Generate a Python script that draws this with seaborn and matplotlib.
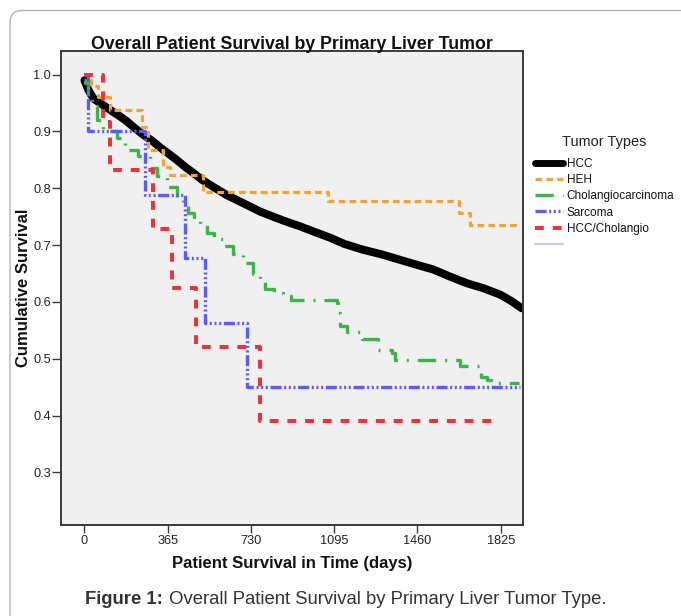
import matplotlib
matplotlib.use("Agg")
import matplotlib.pyplot as plt
import seaborn as sns
import pandas as pd
from matplotlib.lines import Line2D
from matplotlib.patches import FancyBboxPatch
from matplotlib.transforms import IdentityTransform

# ---------------- data ----------------
tumor_types = ["HCC", "HEH", "Cholangiocarcinoma", "Sarcoma", "HCC/Cholangio"]

hcc_days = [0, 17, 39, 75, 112, 150, 185, 220, 258, 295, 331, 368, 404, 440, 477,
            515, 550, 587, 624, 700, 770, 840, 901, 945, 1010, 1077, 1140, 1220,
            1300, 1384, 1460, 1530, 1600, 1676, 1750, 1822, 1870, 1917]
hcc_surv = [0.99, 0.973, 0.958, 0.948, 0.938, 0.928, 0.918, 0.906, 0.894, 0.884,
            0.872, 0.861, 0.850, 0.838, 0.827, 0.815, 0.806, 0.797, 0.788, 0.773,
            0.759, 0.748, 0.739, 0.733, 0.723, 0.713, 0.702, 0.692, 0.684, 0.674,
            0.665, 0.657, 0.645, 0.633, 0.624, 0.613, 0.602, 0.589]

heh_days = [0, 30, 60, 110, 252, 280, 345, 375, 520, 1068, 1643, 1691, 1901]
heh_surv = [1.0, 0.98, 0.96, 0.938, 0.908, 0.867, 0.837, 0.823, 0.794, 0.777,
            0.757, 0.736, 0.736]

chol_days = [0, 2, 15, 35, 54, 81, 141, 178, 235, 287, 317, 360, 404, 430, 454,
             480, 507, 536, 570, 609, 650, 697, 740, 770, 792, 830, 872, 905,
             1105, 1113, 1121, 1150, 1215, 1288, 1350, 1360, 1645, 1740, 1765,
             1790, 1903]
chol_surv = [0.99, 0.985, 0.968, 0.945, 0.92, 0.90, 0.888, 0.867, 0.856, 0.835,
             0.821, 0.803, 0.785, 0.77, 0.757, 0.745, 0.736, 0.721, 0.71, 0.698,
             0.685, 0.668, 0.65, 0.639, 0.622, 0.615, 0.61, 0.604, 0.598, 0.58,
             0.557, 0.547, 0.535, 0.515, 0.511, 0.498, 0.487, 0.468, 0.463,
             0.457, 0.457]

sarc_days = [0, 17, 265, 441, 528, 711, 1910]
sarc_surv = [1.0, 0.90, 0.788, 0.677, 0.563, 0.450, 0.450]

mixed_days = [0, 80, 112, 302, 382, 488, 770, 1818]
mixed_surv = [1.0, 0.917, 0.833, 0.729, 0.625, 0.521, 0.391, 0.391]

x_ticks = [0, 365, 730, 1095, 1460, 1825]
y_ticks = [0.3, 0.4, 0.5, 0.6, 0.7, 0.8, 0.9, 1.0]
y_tick_labels = ["0.3", "0.4", "0.5", "0.6", "0.7", "0.8", "0.9", "1.0"]

title_text = "Overall Patient Survival by Primary Liver Tumor"
xlabel_text = "Patient Survival in Time (days)"
ylabel_text = "Cumulative Survival"
legend_title = "Tumor Types"
caption_bold = "Figure 1:"
caption_rest = " Overall Patient Survival by Primary Liver Tumor Type."

# ---------------- styles ----------------
palette = {"HCC": "#000000", "HEH": "#f7a133", "Cholangiocarcinoma": "#3cb44b",
           "Sarcoma": "#5b5bff", "HCC/Cholangio": "#e8353d"}
sizes = {"HCC": 5.8, "HEH": 2.3, "Cholangiocarcinoma": 2.4, "Sarcoma": 2.4,
         "HCC/Cholangio": 2.9}
dashes = {"HCC": "", "HEH": (2.1, 1.3), "Cholangiocarcinoma": (5.5, 2.7, 0.6, 2.7),
          "Sarcoma": (3.3, 0.8, 0.6, 0.8, 0.6, 0.8, 0.6, 0.8),
          "HCC/Cholangio": (2.2, 2.2)}

series = {"HCC": (hcc_days, hcc_surv), "HEH": (heh_days, heh_surv),
          "Cholangiocarcinoma": (chol_days, chol_surv),
          "Sarcoma": (sarc_days, sarc_surv), "HCC/Cholangio": (mixed_days, mixed_surv)}
frames = [pd.DataFrame({"day": d, "surv": s, "type": k}) for k, (d, s) in series.items()]
df = pd.concat(frames, ignore_index=True)

sns.set_style("ticks")
FONT = "Liberation Sans"
plt.rcParams["font.family"] = [FONT, "DejaVu Sans"]

W, H = 681, 616
fig = plt.figure(figsize=(W / 100, H / 100), dpi=100)
fig.patch.set_facecolor("white")

# card border
card = FancyBboxPatch((10, -60), 800, H - 10.5 + 60, boxstyle="round,pad=0,rounding_size=12",
                      transform=IdentityTransform(), facecolor="none",
                      edgecolor="#b4b4b4", linewidth=1.0)
fig.patches.append(card)

ax_l, ax_r, ax_t, ax_b = 61, 523.3, 50.7, 525
ax = fig.add_axes([ax_l / W, 1 - ax_b / H, (ax_r - ax_l) / W, (ax_b - ax_t) / H])
ax.set_facecolor("#f0f0f0")

# HCC: many small events -> drawn as a continuous thick line through read points
sns.lineplot(data=df[df["type"] == "HCC"], x="day", y="surv", color=palette["HCC"],
             linewidth=sizes["HCC"], estimator=None, sort=False, legend=False, ax=ax)
others = tumor_types[1:]
sns.lineplot(data=df[df["type"] != "HCC"], x="day", y="surv", hue="type", style="type",
             size="type", hue_order=others, style_order=others, size_order=others,
             palette={k: palette[k] for k in others}, sizes={k: sizes[k] for k in others},
             dashes={k: dashes[k] for k in others}, estimator=None, sort=False,
             drawstyle="steps-post", legend=False, ax=ax)

ax.set_xlim(-103, 1924)
ax.set_ylim(0.2076, 1.042)
ax.set_xticks(x_ticks)
ax.set_yticks(y_ticks)
ax.set_yticklabels(y_tick_labels)
ax.set_xlabel("")
ax.set_ylabel("")
for sp in ax.spines.values():
    sp.set_visible(True)
    sp.set_color("#3a3a3a")
    sp.set_linewidth(1.4)

fig.canvas.draw()
R = fig.canvas.get_renderer()


def text_width(s, size, weight="normal", family=FONT):
    t = fig.text(0, 0, s, fontsize=size, fontweight=weight, family=family)
    w = t.get_window_extent(R).width
    t.remove()
    return w


def size_for(s, target, weight="normal"):
    return 10.0 * target / text_width(s, 10.0, weight)


tick_size = size_for("1825", 28.5)
ax.tick_params(axis="x", direction="out", length=5.5, width=1.0, color="#3a3a3a",
               labelsize=tick_size, labelcolor="#222222", pad=2)
ax.tick_params(axis="y", direction="out", length=6.5, width=1.0, color="#3a3a3a",
               labelsize=tick_size, labelcolor="#222222", pad=0.8)


def px(x, y):
    return x / W, 1 - y / H


fig.text(*px(291.5, 49), title_text, ha="center", va="baseline", fontweight="bold",
         fontsize=size_for(title_text, 403, "bold"), color="#111111")
fig.text(*px(292, 568), xlabel_text, ha="center", va="baseline", fontweight="bold",
         fontsize=size_for(xlabel_text, 241, "bold"), color="#111111")
fig.text(*px(23.5, 287.5), ylabel_text, ha="center", va="center", rotation=90,
         fontweight="bold", fontsize=size_for(ylabel_text, 159, "bold"), color="#111111")

# caption: bold part + regular part, fitted to the reference width
cap_target = 525
w_b = text_width(caption_bold, 10, "bold")
w_r = text_width(caption_rest, 10)
cap_size = 10 * cap_target / (w_b + w_r)
wb_px = w_b * cap_size / 10
fig.text(*px(85, 604), caption_bold, ha="left", va="baseline", fontweight="bold",
         fontsize=cap_size, color="#333333")
fig.text(*px(85 + wb_px, 604), caption_rest, ha="left", va="baseline",
         fontsize=cap_size, color="#333333")

# legend title as separate text, centred over the legend column
fig.text(*px(604, 146.2), legend_title, ha="center", va="baseline",
         fontsize=size_for(legend_title, 84), color="#222222")

# legend
handles = []
for t in tumor_types:
    h = Line2D([0], [0], color=palette[t], linewidth=min(sizes[t], 5.0))
    if dashes[t]:
        h.set_dashes(dashes[t])
    handles.append(h)
handles.append(Line2D([0], [0], color="#c9c9ee", linewidth=1.6))
labels = tumor_types + [" "]
leg_size = size_for("Cholangiocarcinoma", 108)
leg_px = leg_size * 100 / 72


def make_legend(anchor, spacing):
    return fig.legend(handles, labels, loc="upper left", bbox_to_anchor=px(*anchor),
                      frameon=False, handlelength=2.3, handletextpad=0.35,
                      labelspacing=spacing, borderpad=0, borderaxespad=0,
                      prop={"family": FONT, "size": leg_size})


anchor = [535, 156]
spacing = 0.3
leg = make_legend(anchor, spacing)
for _ in range(3):
    fig.canvas.draw()
    ex = [t.get_window_extent(R) for t in leg.get_texts()]
    c0 = H - (ex[0].y0 + ex[0].y1) / 2
    c4 = H - (ex[4].y0 + ex[4].y1) / 2
    step = (c4 - c0) / 4
    spacing += (16.2 - step) / leg_px
    anchor = [anchor[0] + (566.7 - ex[0].x0), anchor[1] + (164 - c0)]
    leg.remove()
    leg = make_legend(anchor, spacing)
for txt in leg.get_texts():
    txt.set_color("#111111")

fig.savefig("out.png", dpi=100, facecolor="white")
